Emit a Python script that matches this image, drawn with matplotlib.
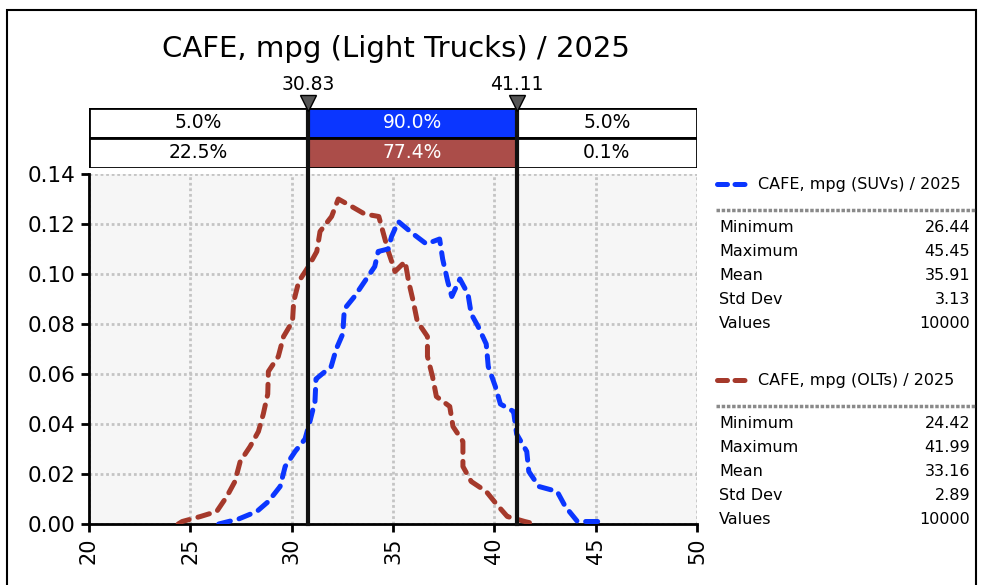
import matplotlib
matplotlib.use("Agg")
import matplotlib.pyplot as plt
import matplotlib.transforms as mtransforms
from matplotlib.lines import Line2D
from matplotlib.patches import Rectangle

# density curves (x = mpg, y = probability density)
suv_x = [26.4, 27.38, 28.28, 28.85, 29.43, 29.68, 30.17, 30.66, 30.9, 31.15, 31.2,
         31.95, 32.2, 32.52, 32.6, 33.1, 33.6, 34.1, 34.27, 34.76, 34.93, 35.26,
         36.0, 36.65, 37.3, 37.45, 37.7, 37.9, 38.3, 38.7, 38.86, 39.2, 39.6, 39.7,
         40.05, 40.3, 40.95, 41.1, 41.6, 41.7, 42.2, 43.1, 43.5, 44.1, 45.1, 45.4]
suv_y = [0.000, 0.002, 0.005, 0.009, 0.015, 0.023, 0.029, 0.034, 0.041, 0.049, 0.058,
         0.063, 0.070, 0.076, 0.086, 0.091, 0.097, 0.103, 0.109, 0.110, 0.115, 0.121,
         0.116, 0.112, 0.114, 0.106, 0.097, 0.091, 0.098, 0.092, 0.084, 0.079, 0.072, 0.063,
         0.055, 0.048, 0.045, 0.036, 0.029, 0.021, 0.015, 0.013, 0.007, 0.001, 0.001, 0.000]

olt_x = [24.4, 24.6, 25.5, 26.3, 26.8, 27.2, 27.46, 27.95, 28.36, 28.6, 28.82, 28.85,
         29.34, 29.6, 30.04, 30.1, 30.35, 30.83, 31.24, 31.4, 31.97, 32.3, 32.96, 33.6,
         34.3, 34.5, 34.77, 35.1, 35.6, 35.77, 36.0, 36.2, 36.7, 36.7, 36.95, 37.14,
         37.8, 37.96, 38.45, 38.45, 38.86, 39.6, 40.1, 40.64, 41.5, 42.0]
olt_y = [0.000, 0.001, 0.003, 0.005, 0.011, 0.017, 0.025, 0.031, 0.037, 0.044, 0.052, 0.061,
         0.067, 0.075, 0.081, 0.089, 0.097, 0.103, 0.109, 0.117, 0.123, 0.130, 0.127, 0.124,
         0.123, 0.117, 0.109, 0.101, 0.105, 0.097, 0.089, 0.081, 0.075, 0.067, 0.059, 0.051,
         0.047, 0.039, 0.033, 0.023, 0.017, 0.013, 0.008, 0.003, 0.001, 0.000]

# delimiters and band percentages
cut_low = 30.83
cut_high = 41.11
band_suv = ["5.0%", "90.0%", "5.0%"]
band_olt = ["22.5%", "77.4%", "0.1%"]

stat_names = ["Minimum", "Maximum", "Mean", "Std Dev", "Values"]
suv_stats = ["26.44", "45.45", "35.91", "3.13", "10000"]
olt_stats = ["24.42", "41.99", "33.16", "2.89", "10000"]

blue = "#0b36ff"
red = "#a5392b"
red_box = "#ab4d49"

W, H = 981, 585
fig = plt.figure(figsize=(W / 100, H / 100), dpi=100)


def fx(px):
    return px / W


def fy(py):
    return 1 - py / H


ax = fig.add_axes([fx(89), fy(524), fx(697) - fx(89), fy(174) - fy(524)])
ax.set_facecolor("#f6f6f6")
ax.set_xlim(20, 50)
ax.set_ylim(0, 0.14)
ax.set_xticks([20, 25, 30, 35, 40, 45, 50])
ax.set_yticks([0, 0.02, 0.04, 0.06, 0.08, 0.10, 0.12, 0.14])
ax.set_yticklabels([f"{v:.2f}" for v in ax.get_yticks()])
ax.tick_params(axis="x", labelrotation=90, labelsize=15, length=6, width=2)
ax.tick_params(axis="y", labelsize=15.5, length=6, width=2)
ax.grid(True, color="#c4c4c4", linestyle=(0, (1, 1)), linewidth=2)
ax.set_axisbelow(True)
for side in ["top", "right"]:
    ax.spines[side].set_visible(False)
for side in ["left", "bottom"]:
    ax.spines[side].set_linewidth(2)

dash = (0, (2.4, 1.8))
ax.plot(olt_x, olt_y, color=red, lw=3.6, linestyle=dash, dash_capstyle="round", zorder=3)
ax.plot(suv_x, suv_y, color=blue, lw=3.6, linestyle=dash, dash_capstyle="round", zorder=4)

# band boxes above the plot
band = fig.add_axes([fx(89), fy(168), fx(697) - fx(89), fy(108) - fy(168)])
band.set_xlim(20, 50)
band.set_ylim(0, 2)
band.axis("off")
edges = [20, cut_low, cut_high, 50]
fills_top = ["white", blue, "white"]
fills_bot = ["white", red_box, "white"]
for i in range(3):
    x0, x1 = edges[i], edges[i + 1]
    band.add_patch(Rectangle((x0, 1), x1 - x0, 1, facecolor=fills_top[i], edgecolor="black", lw=2))
    band.add_patch(Rectangle((x0, 0), x1 - x0, 1, facecolor=fills_bot[i], edgecolor="black", lw=2))
    tc = "white" if i == 1 else "black"
    band.text((x0 + x1) / 2, 1.5, band_suv[i], ha="center", va="center", fontsize=13.5, color=tc)
    band.text((x0 + x1) / 2, 0.5, band_olt[i], ha="center", va="center", fontsize=13.5, color=tc)

# delimiter lines, triangles and values
trans = mtransforms.blended_transform_factory(ax.transData, fig.transFigure)
for c in [cut_low, cut_high]:
    fig.add_artist(Line2D([c, c], [fy(524), fy(104)], transform=trans, color="#111111", lw=3, zorder=10))
    fig.add_artist(Line2D([c], [fy(103)], transform=trans, marker="v", markersize=11,
                          markerfacecolor="#555555", markeredgecolor="black", zorder=11))
    fig.text(c, fy(85), f"{c:.2f}", transform=trans, ha="center", va="center", fontsize=13.5)

fig.text(fx(396), fy(49), "CAFE, mpg (Light Trucks) / 2025", ha="center", va="center", fontsize=21)

# legend with statistics
def stats_block(top, color, name, values):
    fig.add_artist(Line2D([fx(717), fx(748)], [fy(top), fy(top)], color=color, lw=3.6,
                          linestyle=(0, (2, 1.5)), dash_capstyle="round"))
    fig.text(fx(758), fy(top), name, ha="left", va="center", fontsize=11.5)
    fig.add_artist(Line2D([fx(716), fx(975)], [fy(top + 26), fy(top + 26)], color="#8a8a8a",
                          lw=2.5, linestyle=(0, (1, 0.5))))
    for i, (n, v) in enumerate(zip(stat_names, values)):
        y = fy(top + 43 + 24 * i)
        fig.text(fx(719), y, n, ha="left", va="center", fontsize=11.5)
        fig.text(fx(970), y, v, ha="right", va="center", fontsize=11.5)


stats_block(184, blue, "CAFE, mpg (SUVs) / 2025", suv_stats)
stats_block(380, red, "CAFE, mpg (OLTs) / 2025", olt_stats)

# outer frame
fig.add_artist(Rectangle((fx(7), -0.05), fx(976) - fx(7), fy(10) + 0.05, transform=fig.transFigure,
                         fill=False, edgecolor="black", lw=1.5))

fig.savefig("out.png", dpi=100)
